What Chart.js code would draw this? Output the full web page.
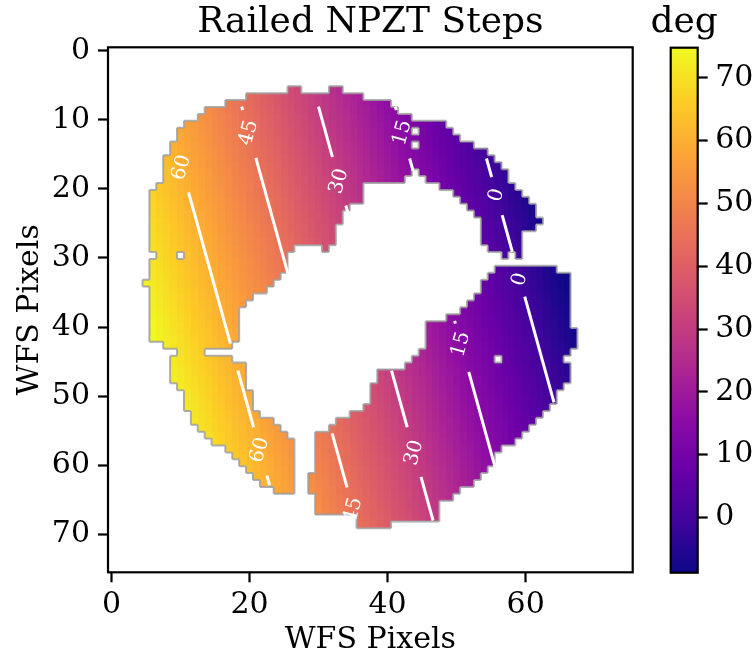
<!DOCTYPE html>
<html>
<head>
<meta charset="utf-8">
<script src="https://cdn.jsdelivr.net/npm/chart.js@4.4.1/dist/chart.umd.min.js"></script>
<style>
  html, body { margin: 0; padding: 0; background: #fff; }
  #wrap { position: relative; width: 756px; height: 658px; }
  #phaseChart { position: absolute; left: 0; top: 0; }
  #barChart { position: absolute; left: 640px; top: 0; }
</style>
</head>
<body>
<div id="wrap">
  <canvas id="phaseChart" width="650" height="658"></canvas>
  <canvas id="barChart" width="116" height="658"></canvas>
</div>
<script>
// axis ticks
const xTicks = [0, 20, 40, 60];
const yTicks = [0, 10, 20, 30, 40, 50, 60, 70];
const degTicks = [0, 10, 20, 30, 40, 50, 60, 70];
const degMin = -8.8;
const degMax = 74.8;

// NPZT step seen on the WFS: deg = deg0 + perX * x + perY * y
const tiltDeg0 = 67.4;
const tiltDegPerX = -1.348;
const tiltDegPerY = 0.3734;
// image rows sit a bit above the tick centres
const rowShift = -0.36;

// lit WFS pixels per row: [row, firstCol, lastCol, firstCol, lastCol, ...]
const pupilRows = [
  [6, 26, 27, 32, 33],
  [7, 20, 36],
  [8, 17, 40],
  [9, 14, 41],
  [10, 13, 43],
  [11, 11, 48],
  [12, 10, 43, 45, 49],
  [13, 10, 50],
  [14, 9, 43, 45, 52],
  [15, 9, 54],
  [16, 8, 55],
  [17, 8, 56],
  [18, 8, 43, 45, 57],
  [19, 8, 42, 46, 57],
  [20, 7, 36, 48, 58],
  [21, 6, 36, 50, 59],
  [22, 6, 36, 51, 60],
  [23, 6, 34, 52, 61],
  [24, 6, 33, 53, 61],
  [25, 6, 33, 54, 62],
  [26, 6, 32, 54, 61],
  [27, 6, 32, 54, 59],
  [28, 6, 32, 54, 59],
  [29, 6, 26, 31, 31, 55, 59],
  [30, 7, 9, 11, 25, 57, 57, 59, 59],
  [31, 6, 25],
  [32, 6, 25, 56, 64],
  [33, 6, 24, 55, 66],
  [34, 5, 23, 54, 66],
  [35, 6, 22, 54, 66],
  [36, 6, 20, 53, 66],
  [37, 6, 19, 52, 66],
  [38, 6, 18, 51, 66],
  [39, 6, 18, 49, 66],
  [40, 6, 18, 46, 66],
  [41, 6, 18, 46, 67],
  [42, 6, 18, 46, 67],
  [43, 8, 17, 46, 67],
  [44, 10, 13, 45, 66],
  [45, 9, 17, 44, 55, 57, 65],
  [46, 9, 19, 43, 66],
  [47, 9, 19, 39, 66],
  [48, 9, 19, 39, 66],
  [49, 10, 19, 38, 65],
  [50, 11, 20, 38, 64],
  [51, 11, 20, 38, 64],
  [52, 11, 20, 37, 63],
  [53, 12, 21, 35, 62],
  [54, 12, 23, 33, 61],
  [55, 13, 24, 32, 60],
  [56, 14, 25, 30, 59],
  [57, 15, 26, 30, 58],
  [58, 17, 26, 30, 56],
  [59, 18, 26, 30, 55],
  [60, 19, 26, 30, 55],
  [61, 20, 26, 30, 54],
  [62, 21, 26, 29, 53],
  [63, 22, 26, 29, 52],
  [64, 24, 26, 29, 50],
  [65, 30, 49],
  [66, 30, 47],
  [67, 30, 47],
  [68, 36, 47],
  [69, 36, 40]
];

// contour levels: [level, yFrom, yTo] for each drawn piece of line
const contourRuns = [
  [60, 20.5, 42.4], [60, 46.3, 54.5], [60, 61.5, 62.9],
  [45, 8.1, 8.6], [45, 15.5, 33.0], [45, 55.4, 63.2],
  [30, 8.1, 15.4], [30, 22.4, 23.6], [30, 46.3, 54.5], [30, 61.7, 68.0],
  [15, 8.1, 8.6], [15, 15.6, 17.3], [15, 39.1, 39.5], [15, 46.5, 60.3],
  [0, 15.6, 18.3], [0, 23.8, 29.1], [0, 35.6, 50.9]
];
// [level, y] of each inline label
const contourLabels = [
  [60, 16.9], [60, 57.8],
  [45, 11.9], [45, 66.5],
  [30, 18.9], [30, 58.2],
  [15, 11.9], [15, 42.5],
  [0, 20.9], [0, 33.1]
];

// plasma colour map
const plasma = [
  [13, 8, 135], [65, 4, 157], [106, 0, 168], [143, 13, 164], [177, 42, 144],
  [204, 71, 120], [225, 100, 98], [242, 132, 75], [252, 166, 54], [252, 206, 37],
  [240, 249, 33]
];

function plasmaColor(v) {
  let t = (v - degMin) / (degMax - degMin);
  t = Math.min(1, Math.max(0, t)) * (plasma.length - 1);
  const i = Math.min(plasma.length - 2, Math.floor(t));
  const f = t - i;
  const a = plasma[i], b = plasma[i + 1];
  return 'rgb(' + a.map((c, k) => Math.round(c + (b[k] - c) * f)).join(',') + ')';
}

function stepDeg(x, y) {
  return tiltDeg0 + tiltDegPerX * x + tiltDegPerY * y;
}

// x where the step equals a given level
function levelX(level, y) {
  return (tiltDeg0 + tiltDegPerY * y - level) / -tiltDegPerX;
}

const cells = [];
pupilRows.forEach(row => {
  for (let i = 1; i < row.length; i += 2) {
    for (let c = row[i]; c <= row[i + 1]; c++) cells.push([c, row[0]]);
  }
});
const lit = new Set(cells.map(([c, r]) => c + ',' + r));

Chart.defaults.font.family = 'DejaVu Serif';
Chart.defaults.color = '#000';

const pupilPlugin = {
  id: 'pupil',
  beforeDatasetsDraw(chart) {
    const { ctx, scales: { x, y } } = chart;
    ctx.save();
    cells.forEach(([c, r]) => {
      const yc = r + rowShift;
      const x0 = Math.round(x.getPixelForValue(c - 0.5));
      const x1 = Math.round(x.getPixelForValue(c + 0.5));
      const y0 = Math.round(y.getPixelForValue(yc - 0.5));
      const y1 = Math.round(y.getPixelForValue(yc + 0.5));
      ctx.fillStyle = plasmaColor(stepDeg(c, yc));
      ctx.fillRect(x0, y0, x1 - x0, y1 - y0);
    });
    // grey rim around the lit pixels
    ctx.beginPath();
    cells.forEach(([c, r]) => {
      const yc = r + rowShift;
      const x0 = x.getPixelForValue(c - 0.5), x1 = x.getPixelForValue(c + 0.5);
      const y0 = y.getPixelForValue(yc - 0.5), y1 = y.getPixelForValue(yc + 0.5);
      if (!lit.has((c - 1) + ',' + r)) { ctx.moveTo(x0, y0); ctx.lineTo(x0, y1); }
      if (!lit.has((c + 1) + ',' + r)) { ctx.moveTo(x1, y0); ctx.lineTo(x1, y1); }
      if (!lit.has(c + ',' + (r - 1))) { ctx.moveTo(x0, y0); ctx.lineTo(x1, y0); }
      if (!lit.has(c + ',' + (r + 1))) { ctx.moveTo(x0, y1); ctx.lineTo(x1, y1); }
    });
    ctx.strokeStyle = 'rgba(160,160,160,0.85)';
    ctx.lineWidth = 2;
    ctx.stroke();
    ctx.restore();
  },
  afterDatasetsDraw(chart) {
    const { ctx, chartArea: a, scales: { x, y } } = chart;
    ctx.save();
    ctx.fillStyle = '#fff';
    ctx.font = '20px "DejaVu Serif"';
    ctx.textAlign = 'center';
    ctx.textBaseline = 'middle';
    contourLabels.forEach(([lev, yv]) => {
      const px = x.getPixelForValue(levelX(lev, yv));
      const py = y.getPixelForValue(yv);
      const dx = x.getPixelForValue(levelX(lev, yv + 1)) - px;
      const dy = y.getPixelForValue(yv + 1) - py;
      ctx.save();
      ctx.translate(px, py);
      ctx.rotate(-Math.atan2(dy, dx));
      ctx.fillText(String(lev), 0, 0);
      ctx.restore();
    });
    ctx.strokeStyle = '#000';
    ctx.lineWidth = 2.2;
    ctx.strokeRect(a.left, a.top, a.right - a.left, a.bottom - a.top);
    ctx.restore();
  },
  afterDraw(chart) {
    const { ctx, chartArea: a } = chart;
    const cx = (a.left + a.right) / 2;
    ctx.save();
    ctx.fillStyle = '#000';
    ctx.textAlign = 'center';
    ctx.textBaseline = 'alphabetic';
    ctx.font = '36px "DejaVu Serif"';
    ctx.fillText('Railed NPZT Steps', cx, 31.7);
    ctx.font = '30px "DejaVu Serif"';
    ctx.fillText('WFS Pixels', cx, 648);
    ctx.translate(38, (a.top + a.bottom) / 2);
    ctx.rotate(-Math.PI / 2);
    ctx.fillText('WFS Pixels', 0, 0);
    ctx.restore();
  }
};

const contourData = contourRuns.map(([lev, ya, yb]) => ({
  label: String(lev),
  data: [{ x: levelX(lev, ya), y: ya }, { x: levelX(lev, yb), y: yb }],
  showLine: true,
  borderColor: '#fff',
  borderWidth: 3,
  borderCapStyle: 'butt',
  pointRadius: 0
}));

const tickGrid = { drawOnChartArea: false, tickLength: 10, tickWidth: 2.2, tickColor: '#000' };

new Chart(document.getElementById('phaseChart'), {
  type: 'scatter',
  data: { datasets: contourData },
  options: {
    responsive: false,
    animation: false,
    events: [],
    layout: { padding: { top: 47.3, right: 17.3, bottom: 0, left: 0 } },
    plugins: { legend: { display: false }, tooltip: { enabled: false } },
    scales: {
      x: {
        min: -0.5,
        max: 75.5,
        afterBuildTicks: s => { s.ticks = xTicks.map(v => ({ value: v })); },
        afterFit: s => { s.height = 85.7; },
        grid: tickGrid,
        border: { display: false },
        ticks: { font: { size: 30 }, padding: 5, maxRotation: 0 }
      },
      y: {
        reverse: true,
        min: -0.5,
        max: 75.5,
        afterBuildTicks: s => { s.ticks = yTicks.map(v => ({ value: v })); },
        afterFit: s => { s.width = 108; },
        grid: tickGrid,
        border: { display: false },
        ticks: { font: { size: 30 }, padding: 8 }
      }
    }
  },
  plugins: [pupilPlugin]
});

const barPlugin = {
  id: 'degBar',
  beforeDatasetsDraw(chart) {
    const { ctx, chartArea: a } = chart;
    const g = ctx.createLinearGradient(0, a.bottom, 0, a.top);
    plasma.forEach((c, i) => g.addColorStop(i / (plasma.length - 1), 'rgb(' + c.join(',') + ')'));
    ctx.save();
    ctx.fillStyle = g;
    ctx.fillRect(a.left, a.top, a.right - a.left, a.bottom - a.top);
    ctx.strokeStyle = '#000';
    ctx.lineWidth = 2.2;
    ctx.strokeRect(a.left, a.top, a.right - a.left, a.bottom - a.top);
    ctx.fillStyle = '#000';
    ctx.font = '36px "DejaVu Serif"';
    ctx.textAlign = 'center';
    ctx.fillText('deg', (a.left + a.right) / 2, 31.7);
    ctx.restore();
  }
};

new Chart(document.getElementById('barChart'), {
  type: 'scatter',
  data: { datasets: [] },
  options: {
    responsive: false,
    animation: false,
    events: [],
    layout: { padding: { top: 47.7, right: 0, bottom: 85.3, left: 30.7 } },
    plugins: { legend: { display: false }, tooltip: { enabled: false } },
    scales: {
      x: { display: false },
      y: {
        position: 'right',
        min: degMin,
        max: degMax,
        afterBuildTicks: s => { s.ticks = degTicks.map(v => ({ value: v })); },
        afterFit: s => { s.width = 58.3; },
        grid: tickGrid,
        border: { display: false },
        ticks: { font: { size: 30 }, padding: 7.5 }
      }
    }
  },
  plugins: [barPlugin]
});
</script>
</body>
</html>
